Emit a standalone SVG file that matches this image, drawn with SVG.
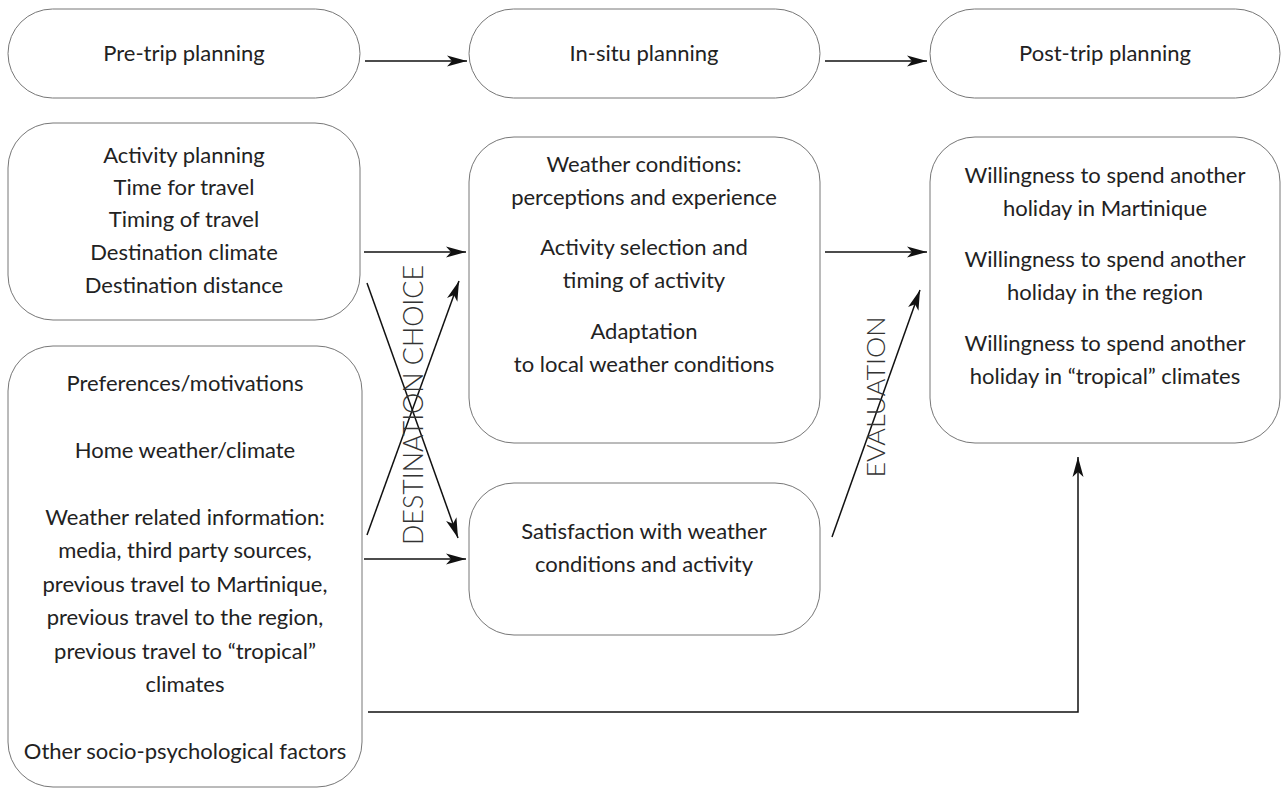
<svg xmlns="http://www.w3.org/2000/svg" width="1284" height="789" viewBox="0 0 1284 789">
<style>
.box{fill:#fff;stroke:#777;stroke-width:1}
.t{font-family:Lato,"Liberation Sans",sans-serif;font-size:22px;fill:#222;text-anchor:middle}
.lbl{font-family:Lato,"Liberation Sans",sans-serif;font-weight:300;fill:#333;text-anchor:middle}
.c{stroke:#111;stroke-width:1.5;fill:none;marker-end:url(#ah)}
</style>
<defs>
<marker id="ah" markerUnits="userSpaceOnUse" markerWidth="22" markerHeight="12" refX="20" refY="6" orient="auto">
<path d="M0,0.5 L20,6 L0,11.5 L5,6 z" fill="#111"/>
</marker>
</defs>
<rect width="1284" height="789" fill="#fff"/>
<g id="pre-trip"><rect class="box" x="8" y="9" width="352" height="89" rx="44.5"/><text class="t" x="184" y="61">Pre-trip planning</text></g>
<g id="in-situ"><rect class="box" x="469" y="9" width="351" height="89" rx="44.5"/><text class="t" x="644" y="61">In-situ planning</text></g>
<g id="post-trip"><rect class="box" x="930" y="9" width="350" height="89" rx="44.5"/><text class="t" x="1105" y="61">Post-trip planning</text></g>
<g id="activity-planning"><rect class="box" x="8" y="123" width="352" height="197" rx="45"/>
<text class="t" x="184" y="163">Activity planning</text>
<text class="t" x="184" y="195">Time for travel</text>
<text class="t" x="184" y="227">Timing of travel</text>
<text class="t" x="184" y="260">Destination climate</text>
<text class="t" x="184" y="293">Destination distance</text></g>
<g id="preferences"><rect class="box" x="8" y="346" width="354" height="441" rx="45"/>
<text class="t" x="185" y="391">Preferences/motivations</text>
<text class="t" x="185" y="458">Home weather/climate</text>
<text class="t" x="185" y="525">Weather related information:</text>
<text class="t" x="185" y="558">media, third party sources,</text>
<text class="t" x="185" y="592">previous travel to Martinique,</text>
<text class="t" x="185" y="625">previous travel to the region,</text>
<text class="t" x="185" y="659">previous travel to “tropical”</text>
<text class="t" x="185" y="692">climates</text>
<text class="t" x="185" y="759">Other socio-psychological factors</text></g>
<g id="weather-conditions"><rect class="box" x="469" y="137" width="351" height="306" rx="45"/>
<text class="t" x="644" y="172">Weather conditions:</text>
<text class="t" x="644" y="205">perceptions and experience</text>
<text class="t" x="644" y="255">Activity selection and</text>
<text class="t" x="644" y="288">timing of activity</text>
<text class="t" x="644" y="339">Adaptation</text>
<text class="t" x="644" y="372">to local weather conditions</text></g>
<g id="satisfaction"><rect class="box" x="469" y="483" width="351" height="152" rx="45"/>
<text class="t" x="644" y="539">Satisfaction with weather</text>
<text class="t" x="644" y="572">conditions and activity</text></g>
<g id="willingness"><rect class="box" x="930" y="137" width="350" height="306" rx="45"/>
<text class="t" x="1105" y="183">Willingness to spend another</text>
<text class="t" x="1105" y="216">holiday in Martinique</text>
<text class="t" x="1105" y="267">Willingness to spend another</text>
<text class="t" x="1105" y="300">holiday in the region</text>
<text class="t" x="1105" y="351">Willingness to spend another</text>
<text class="t" x="1105" y="384">holiday in “tropical” climates</text></g>
<g id="connectors">
<line class="c" x1="365" y1="61" x2="467" y2="61"/>
<line class="c" x1="825" y1="61" x2="927" y2="61"/>
<line class="c" x1="364" y1="252" x2="466" y2="252"/>
<line class="c" x1="364" y1="559" x2="466" y2="559"/>
<line class="c" x1="367" y1="283" x2="458" y2="538"/>
<line class="c" x1="367" y1="535" x2="459" y2="281"/>
<line class="c" x1="825" y1="252" x2="927" y2="252"/>
<line class="c" x1="832" y1="537" x2="920" y2="290"/>
<polyline class="c" points="368,712 1078,712 1078,457"/>
</g>
<g id="labels">
<text class="lbl" transform="translate(423,405) rotate(-90)" font-size="27" textLength="280" lengthAdjust="spacingAndGlyphs">DESTINATION CHOICE</text>
<text class="lbl" transform="translate(885,397) rotate(-90)" font-size="25" textLength="161" lengthAdjust="spacingAndGlyphs">EVALUATION</text>
</g>
</svg>
